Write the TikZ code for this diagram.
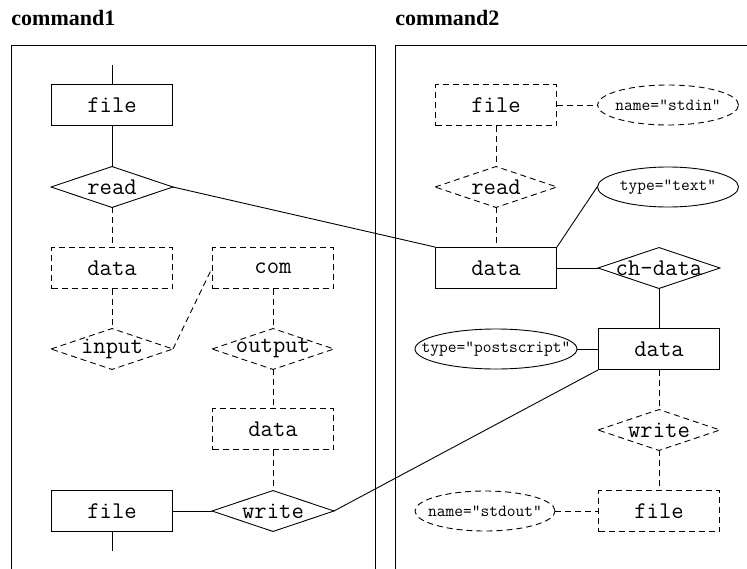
\documentclass[tikz,border=0pt]{standalone}
\usepackage{fontspec}
\setmainfont{Liberation Serif}
\begin{document}
\begin{tikzpicture}[x=1pt,y=-1pt,
  line width=0.9pt,
  dsh/.style={dash pattern=on 6pt off 4pt},
  box/.style={rectangle,minimum width=121pt,minimum height=41pt,inner sep=0pt,font=\fontsize{24}{28}\ttfamily},
  dia/.style={rectangle,minimum width=121pt,minimum height=40pt,inner sep=0pt,font=\fontsize{24}{28}\ttfamily},
  ell/.style={rectangle,minimum height=40pt,inner sep=0pt,font=\fontsize{17}{20}\ttfamily},
  ttl/.style={anchor=base west,inner sep=0pt,font=\fontsize{22}{26}\selectfont\bfseries}
]
\useasboundingbox (0,0) rectangle (747,568);
\begin{scope}
\clip (0,0) rectangle (747,568);
\draw (11,600) -- (11,45) -- (375,45) -- (375,600);
\draw (395,600) -- (395,45) -- (760,45);
\end{scope}
% panels
\node[ttl] (t1) at (11,25) {command1};
\node[ttl] (t2) at (395,25) {command2};

% left nodes
\coordinate (top1) at (112,65);
\coordinate (bot1) at (112,551);
\node[box,draw] (f1) at (112,105) {file};
\node[dia] (r1) at (112,187) {read};
\node[box,draw,dsh] (d1) at (112,268) {data};
\node[dia] (in1) at (112,349) {input};
\node[box,draw,dsh] (com) at (273,268) {com};
\node[dia] (out) at (273,349) {output};
\node[box,draw,dsh] (d2) at (273,429) {data};
\node[dia] (w1) at (273,511) {write};
\node[box,draw] (f2) at (112,511) {file};

% right nodes
\node[box,draw,dsh] (fr) at (496,105) {file};
\node[ell,minimum width=141pt] (sin) at (668,105) {name="stdin"};
\node[dia] (rr) at (496,187) {read};
\node[box,draw] (dA) at (496,268) {data};
\node[ell,minimum width=141pt] (txt) at (668,187) {type="text"};
\node[dia] (ch) at (659,268) {ch-data};
\node[box,draw] (dB) at (659,349) {data};
\node[ell,minimum width=162pt] (ps) at (496,349) {type="postscript"};
\node[dia] (wr) at (659,430) {write};
\node[box,draw,dsh] (fo) at (659,511) {file};
\node[ell,minimum width=140pt] (sout) at (485,511) {name="stdout"};

% diamonds
\foreach \n in {r1,w1,ch}
  \draw (\n.west) -- (\n.north) -- (\n.east) -- (\n.south) -- cycle;
\foreach \n in {in1,out,rr,wr}
  \draw[dsh] (\n.west) -- (\n.north) -- (\n.east) -- (\n.south) -- cycle;
% ellipses
\draw (txt.center) ellipse [x radius=70.5pt, y radius=20pt];
\draw (ps.center) ellipse [x radius=81pt, y radius=20pt];
\draw[dsh] (sin.center) ellipse [x radius=70.5pt, y radius=20pt];
\draw[dsh] (sout.center) ellipse [x radius=70pt, y radius=20pt];

% left connectors
\draw (top1) -- (f1.north);
\draw (f1.south) -- (r1.north);
\draw[dsh] (r1.south) -- (d1.north);
\draw[dsh] (d1.south) -- (in1.north);
\draw[dsh] (in1.east) -- (com.west);
\draw[dsh] (com.south) -- (out.north);
\draw[dsh] (out.south) -- (d2.north);
\draw[dsh] (d2.south) -- (w1.north);
\draw (f2.east) -- (w1.west);
\draw (f2.south) -- (bot1);
% cross connectors
\draw (r1.east) -- (dA.north west);
\draw (w1.east) -- (dB.south west);
% right connectors
\draw[dsh] (fr.east) -- (sin.west);
\draw[dsh] (fr.south) -- (rr.north);
\draw[dsh] (rr.south) -- (dA.north);
\draw (dA.north east) -- (txt.west);
\draw (dA.east) -- (ch.west);
\draw (ch.south) -- (dB.north);
\draw (ps.east) -- (dB.west);
\draw[dsh] (dB.south) -- (wr.north);
\draw[dsh] (wr.south) -- (fo.north);
\draw[dsh] (sout.east) -- (fo.west);
\end{tikzpicture}
\end{document}
